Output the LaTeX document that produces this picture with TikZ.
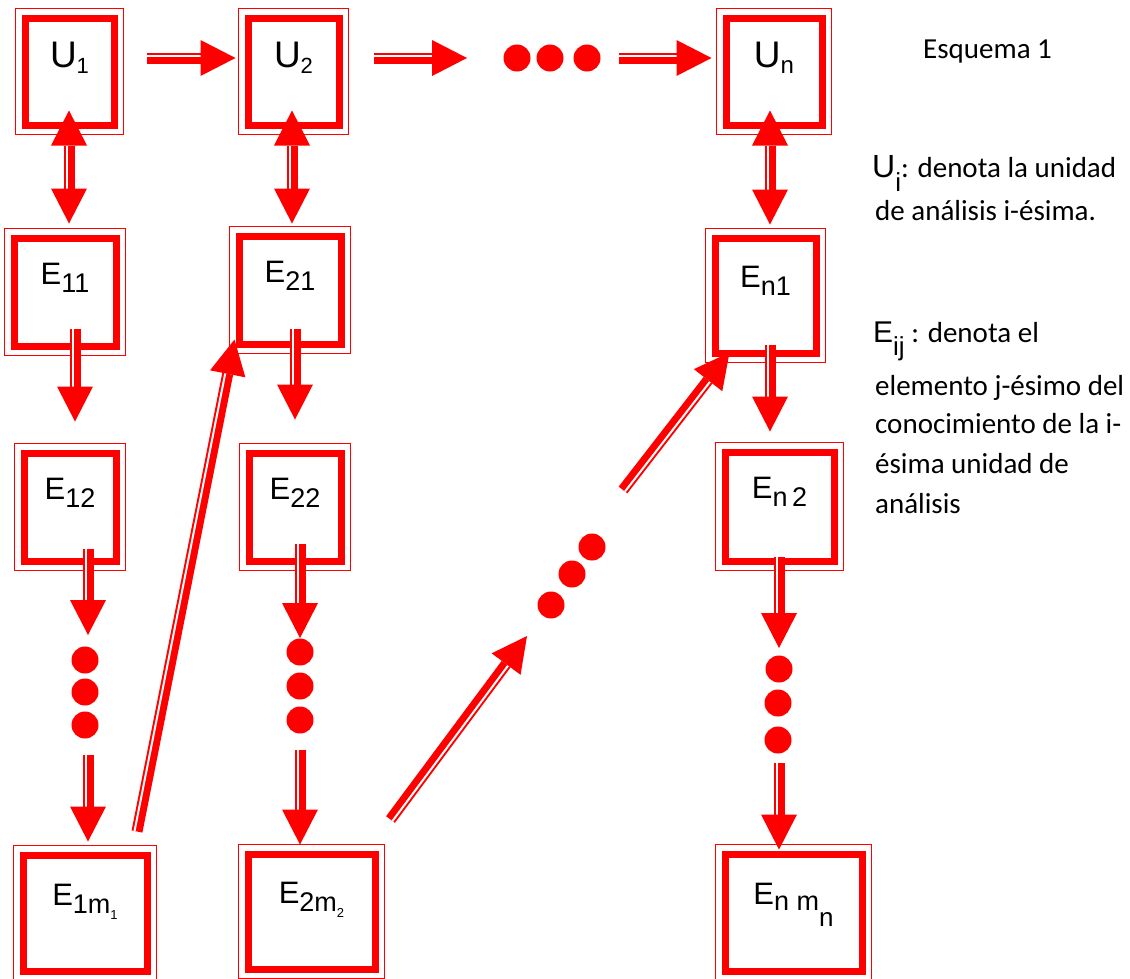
\documentclass[tikz,border=0pt]{standalone}
\usepackage{fontspec}
\setmainfont{Liberation Sans}
\newfontfamily\notafont{Carlito}
\usetikzlibrary{calc}

% subindice rebajado: tamano, descenso, texto
\newcommand{\bajo}[3]{\raisebox{-#2pt}{\fontsize{#1}{#1}\selectfont #3}}

% cabeza triangular: punta, base
\newcommand{\punta}[2]{%
  \fill[red] (#1) -- ($(#2)!18pt!90:(#1)$) -- ($(#2)!18pt!-90:(#1)$) -- cycle;
}
% flecha de cuerpo doble: origen, punta, lado de la linea fina
\newcommand{\flecha}[3]{%
  \coordinate (fa) at (#1);
  \coordinate (ft) at (#2);
  \coordinate (fb) at ($(ft)!35pt!(fa)$);
  \draw[cuerpo] (fa) -- (fb);
  \draw[hueco] ($(fa)!#3*2.5pt!90:(fb)$) -- ($(fb)!#3*2.5pt!-90:(fa)$);
  \punta{ft}{fb}
}
% lo mismo con punta en los dos extremos
\newcommand{\flechas}[3]{%
  \coordinate (fa) at (#1);
  \coordinate (ft) at (#2);
  \coordinate (fb) at ($(ft)!35pt!(fa)$);
  \coordinate (fc) at ($(fa)!35pt!(ft)$);
  \draw[cuerpo] (fc) -- (fb);
  \draw[hueco] ($(fc)!#3*2.5pt!90:(fb)$) -- ($(fb)!#3*2.5pt!-90:(fc)$);
  \punta{ft}{fb}
  \punta{fa}{fc}
}

\tikzset{
  caja/.style={draw=red, line width=7pt, inner sep=0pt, text height=22pt, text depth=38pt,
    font=\fontsize{31}{31}\selectfont},
  ucaja/.style={caja, text depth=31pt, font=\fontsize{37}{37}\selectfont},
  marco/.style={draw=red, line width=1.5pt},
  cuerpo/.style={draw=red, line width=11pt},
  hueco/.style={draw=white, line width=2pt},
  punto/.style={circle, fill=red, inner sep=0pt, minimum size=27pt},
  nota/.style={inner sep=0pt, anchor=base west, font=\notafont\fontsize{29}{35}\selectfont},
}

\begin{document}
\begin{tikzpicture}[x=1pt,y=-1pt]
  \useasboundingbox (0,0) rectangle (1130,978);

  % unidades
  \node[ucaja, minimum width=89pt, minimum height=107pt] (u1) at (69.5,71.5) {U\bajo{22}{6}{1}};
  \node[ucaja, minimum width=91pt, minimum height=107pt] (u2) at (293.5,71.5) {U\bajo{22}{6}{2}};
  \node[ucaja, minimum width=96pt, minimum height=107pt] (un) at (774,71.5) {U\bajo{24}{6}{n}};

  % elementos
  \node[caja, minimum width=102pt, minimum height=108pt] (e11) at (65,292) {E\bajo{27}{8}{11}};
  \node[caja, minimum width=102pt, minimum height=108pt] (e21) at (290,290) {E\bajo{27}{8}{21}};
  \node[caja, minimum width=101pt, minimum height=115pt] (en1) at (765.5,295.5) {E\bajo{27}{8}{n1}};
  \node[caja, minimum width=92pt, minimum height=108pt] (e12) at (70,507) {E\bajo{27}{8}{12}};
  \node[caja, minimum width=92pt, minimum height=108pt] (e22) at (295,507) {E\bajo{27}{8}{22}};
  \node[caja, minimum width=109pt, minimum height=109pt] (en2) at (779.5,506.5) {E\bajo{27}{8}{n\,2}};
  \node[caja, minimum width=124pt, minimum height=116pt] (e1m) at (85,913) {E\bajo{27}{8}{1m\bajo{13}{6}{1}}};
  \node[caja, minimum width=127pt, minimum height=115pt] (e2m) at (311.5,911.5) {E\bajo{27}{8}{2m\bajo{13}{6}{2}}};
  \node[caja, minimum width=137pt, minimum height=117pt] (enm) at (793.5,912.5) {E\bajo{27}{6}{n m\bajo{26}{16}{n}}};

  % filete exterior de cada caja
  \foreach \c in {u1,u2,un,e11,e21,en1,e12,e22,en2,e1m,e2m,enm}
    \draw[marco] ([shift={(-6pt,6pt)}]\c.north west) rectangle ([shift={(6pt,-6pt)}]\c.south east);

  % puntos suspensivos
  \foreach \n/\p in {d1/{517,58},d2/{550,58},d3/{587,58},
                     c1/{85,660},c2/{85,692},c3/{85,725},
                     k1/{300,652},k2/{300,686},k3/{300,720},
                     m1/{779,669},m2/{778,703},m3/{778,740},
                     g1/{551,605},g2/{572,574},g3/{592,547}}
    \node[punto] (\n) at (\p) {};

  % fila de unidades
  \flecha{$(u1.east)+(29,-13.5)$}{$(u2.west)+(-9,-13.5)$}{1}
  \flecha{$(u2.east)+(31,-13.5)$}{$(d1)+(-50,0)$}{1}
  \flecha{$(d3)+(32,0)$}{$(un.west)+(-11,-13.5)$}{1}

  % unidad <-> primer elemento
  \flechas{$(u1.south)+(-0.5,-18)$}{$(e11.north)+(4,-11)$}{-1}
  \flechas{$(u2.south)+(-1.5,-18)$}{$(e21.north)+(2,-9)$}{-1}
  \flechas{$(un.south)+(-4,-18)$}{$(en1.north)+(4.5,-10)$}{-1}

  % columna 1
  \flecha{$(e11.south)+(10,-21)$}{$(e12.north)+(5,-28)$}{-1}
  \flecha{$(e12.south)+(18,-16)$}{$(c1)+(3,-25)$}{-1}
  \flecha{$(c3)+(3,30)$}{$(e1m.north)+(3,-10)$}{-1}

  % columna 2
  \flecha{$(e21.south)+(5,-19)$}{$(e22.north)+(0,-30)$}{-1}
  \flecha{$(e22.south)+(5,-21)$}{$(k1)+(0,-14)$}{-1}
  \flecha{$(k3)+(0,30)$}{$(e2m.north)+(-11.5,-6)$}{-1}

  % columna n
  \flecha{$(en1.south)+(4.5,-12)$}{$(en2.north)+(-9.5,-17)$}{-1}
  \flecha{$(en2.south)+(-0.5,-8)$}{$(m1)+(0,-21)$}{-1}
  \flecha{$(m3)+(1,23)$}{$(enm.north)+(-14.5,-1)$}{-1}

  % paso de una unidad a la siguiente
  \flecha{$(e1m.north)+(52,-20)$}{$(e21.south west)+(-1,-8)$}{1}
  \flecha{$(e2m.north east)+(12,-31)$}{$(g1)+(-24,31)$}{-1}
  \flecha{$(g3)+(31,-57)$}{$(en1.south west)+(18,-4)$}{-1}

  % leyenda
  \node[nota] (esq) at (923,58) {Esquema 1};
  \node[anchor=base west, inner sep=0pt, font=\fontsize{32}{32}\selectfont] (ui) at (872,177)
    {U\bajo{26}{14}{i}\notafont\fontsize{29}{35}\selectfont: denota la unidad};
  \node[nota] (l1) at (875,220) {de análisis i-ésima.};
  \node[anchor=base west, inner sep=0pt, font=\fontsize{30}{30}\selectfont] (eij) at (873,342)
    {E\bajo{26}{13}{ij}\notafont\fontsize{29}{35}\selectfont\ : denota el};
  \node[nota] (l2) at (875,395) {elemento j-ésimo del};
  \node[nota] (l3) at (875,433) {conocimiento de la i-};
  \node[nota] (l4) at (875,473) {ésima unidad de};
  \node[nota] (l5) at (875,513) {análisis};
\end{tikzpicture}
\end{document}
